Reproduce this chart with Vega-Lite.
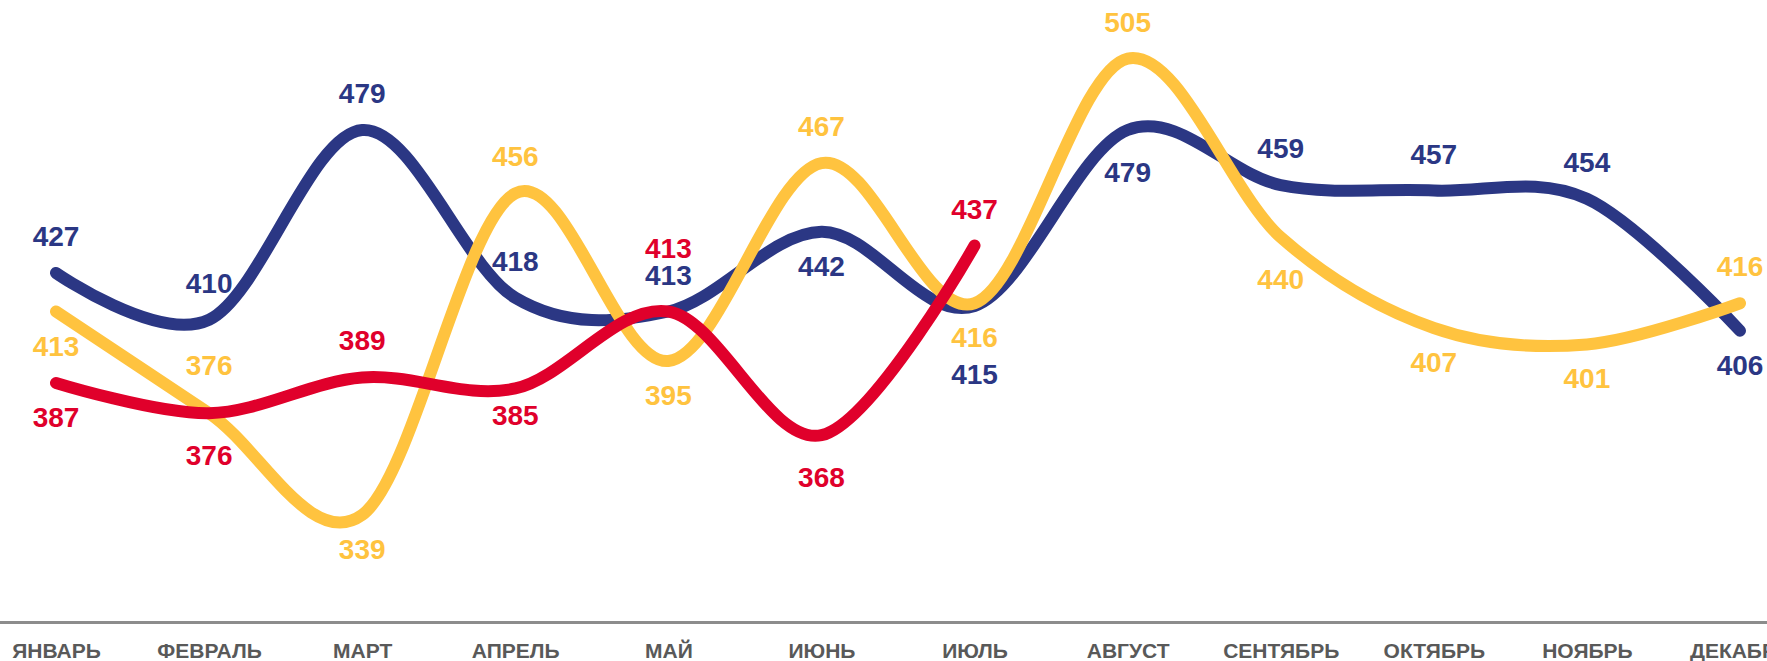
{
  "$schema": "https://vega.github.io/schema/vega-lite/v6.json",
  "width": 1767,
  "height": 623,
  "autosize": "none",
  "padding": {"left": 0, "right": 0, "top": 0, "bottom": 38},
  "background": "white",
  "config": {"view": {"stroke": null}},
  "data": {"values": [
    {"series": "2022", "month": "ЯНВАРЬ", "value": 427},
    {"series": "2022", "month": "ФЕВРАЛЬ", "value": 410},
    {"series": "2022", "month": "МАРТ", "value": 479},
    {"series": "2022", "month": "АПРЕЛЬ", "value": 418},
    {"series": "2022", "month": "МАЙ", "value": 413},
    {"series": "2022", "month": "ИЮНЬ", "value": 442},
    {"series": "2022", "month": "ИЮЛЬ", "value": 415},
    {"series": "2022", "month": "АВГУСТ", "value": 479},
    {"series": "2022", "month": "СЕНТЯБРЬ", "value": 459},
    {"series": "2022", "month": "ОКТЯБРЬ", "value": 457},
    {"series": "2022", "month": "НОЯБРЬ", "value": 454},
    {"series": "2022", "month": "ДЕКАБРЬ", "value": 406},
    {"series": "2023", "month": "ЯНВАРЬ", "value": 413},
    {"series": "2023", "month": "ФЕВРАЛЬ", "value": 376},
    {"series": "2023", "month": "МАРТ", "value": 339},
    {"series": "2023", "month": "АПРЕЛЬ", "value": 456},
    {"series": "2023", "month": "МАЙ", "value": 395},
    {"series": "2023", "month": "ИЮНЬ", "value": 467},
    {"series": "2023", "month": "ИЮЛЬ", "value": 416},
    {"series": "2023", "month": "АВГУСТ", "value": 505},
    {"series": "2023", "month": "СЕНТЯБРЬ", "value": 440},
    {"series": "2023", "month": "ОКТЯБРЬ", "value": 407},
    {"series": "2023", "month": "НОЯБРЬ", "value": 401},
    {"series": "2023", "month": "ДЕКАБРЬ", "value": 416},
    {"series": "2024", "month": "ЯНВАРЬ", "value": 387},
    {"series": "2024", "month": "ФЕВРАЛЬ", "value": 376},
    {"series": "2024", "month": "МАРТ", "value": 389},
    {"series": "2024", "month": "АПРЕЛЬ", "value": 385},
    {"series": "2024", "month": "МАЙ", "value": 413},
    {"series": "2024", "month": "ИЮНЬ", "value": 368},
    {"series": "2024", "month": "ИЮЛЬ", "value": 437}
  ]},
  "layer": [
    {
      "mark": {"type": "rule", "color": "#8c8c8c", "strokeWidth": 3},
      "encoding": {"y": {"datum": 299.9, "type": "quantitative", "scale": {"domain": [299.7, 526.3], "zero": false, "nice": false}, "axis": null}}
    },
    {
      "encoding": {
        "x": {
          "field": "month", "type": "ordinal",
          "sort": ["ЯНВАРЬ","ФЕВРАЛЬ","МАРТ","АПРЕЛЬ","МАЙ","ИЮНЬ","ИЮЛЬ","АВГУСТ","СЕНТЯБРЬ","ОКТЯБРЬ","НОЯБРЬ","ДЕКАБРЬ"],
          "scale": {"type": "point", "range": [56, 1740], "padding": 0},
          "axis": {
            "title": null, "labelAngle": 0, "ticks": false, "grid": false, "domain": false,
            "labelFont": "Liberation Sans Narrow, Arial Narrow, Liberation Sans, Arial",
            "labelFontWeight": "bold", "labelFontSize": 21, "labelColor": "#595959",
            "labelPadding": 17, "labelOverlap": false, "labelBound": false
          }
        },
        "y": {
          "field": "value", "type": "quantitative",
          "scale": {"domain": [299.7, 526.3], "zero": false, "nice": false},
          "axis": null
        },
        "color": {
          "field": "series", "type": "nominal",
          "scale": {"domain": ["2022", "2023", "2024"], "range": ["#2B3784", "#FFC33F", "#E0002B"]},
          "legend": null
        }
      },
      "layer": [
        {"mark": {"type": "line", "interpolate": "cardinal", "strokeWidth": 12, "strokeCap": "round", "strokeJoin": "round"}},
        {
          "transform": [{"filter": "indexof(['2022|ЯНВАРЬ','2022|ФЕВРАЛЬ','2022|МАРТ','2022|АПРЕЛЬ','2022|МАЙ','2022|СЕНТЯБРЬ','2022|ОКТЯБРЬ','2022|НОЯБРЬ','2023|АПРЕЛЬ','2023|ИЮНЬ','2023|АВГУСТ','2023|ДЕКАБРЬ','2024|МАРТ','2024|ИЮЛЬ'], datum.series + '|' + datum.month) >= 0"}],
          "mark": {"type": "text", "dy": -35, "font": "Liberation Sans, Arial", "fontWeight": "bold", "fontSize": 28, "baseline": "middle"},
          "encoding": {"text": {"field": "value", "type": "quantitative"}}
        },
        {
          "transform": [{"filter": "datum.series == '2023' && datum.month == 'ФЕВРАЛЬ'"}],
          "mark": {"type": "text", "dy": -46, "font": "Liberation Sans, Arial", "fontWeight": "bold", "fontSize": 28, "baseline": "middle"},
          "encoding": {"text": {"field": "value", "type": "quantitative"}}
        },
        {
          "transform": [{"filter": "datum.series == '2024' && datum.month == 'МАЙ'"}],
          "mark": {"type": "text", "dy": -62, "font": "Liberation Sans, Arial", "fontWeight": "bold", "fontSize": 28, "baseline": "middle"},
          "encoding": {"text": {"field": "value", "type": "quantitative"}}
        },
        {
          "transform": [{"filter": "indexof(['2022|ИЮНЬ','2022|ДЕКАБРЬ','2023|ЯНВАРЬ','2023|МАРТ','2023|МАЙ','2023|ИЮЛЬ','2023|ОКТЯБРЬ','2023|НОЯБРЬ','2024|ЯНВАРЬ'], datum.series + '|' + datum.month) >= 0"}],
          "mark": {"type": "text", "dy": 36, "font": "Liberation Sans, Arial", "fontWeight": "bold", "fontSize": 28, "baseline": "middle"},
          "encoding": {"text": {"field": "value", "type": "quantitative"}}
        },
        {
          "transform": [{"filter": "datum.series == '2024' && datum.month == 'АПРЕЛЬ'"}],
          "mark": {"type": "text", "dy": 29, "font": "Liberation Sans, Arial", "fontWeight": "bold", "fontSize": 28, "baseline": "middle"},
          "encoding": {"text": {"field": "value", "type": "quantitative"}}
        },
        {
          "transform": [{"filter": "indexof(['2022|АВГУСТ','2023|СЕНТЯБРЬ','2024|ФЕВРАЛЬ','2024|ИЮНЬ'], datum.series + '|' + datum.month) >= 0"}],
          "mark": {"type": "text", "dy": 44, "font": "Liberation Sans, Arial", "fontWeight": "bold", "fontSize": 28, "baseline": "middle"},
          "encoding": {"text": {"field": "value", "type": "quantitative"}}
        },
        {
          "transform": [{"filter": "datum.series == '2022' && datum.month == 'ИЮЛЬ'"}],
          "mark": {"type": "text", "dy": 70, "font": "Liberation Sans, Arial", "fontWeight": "bold", "fontSize": 28, "baseline": "middle"},
          "encoding": {"text": {"field": "value", "type": "quantitative"}}
        }
      ]
    }
  ]
}
